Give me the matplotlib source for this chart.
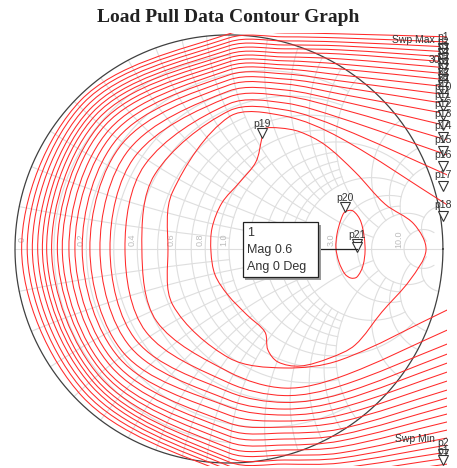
import numpy as np
import matplotlib.pyplot as plt
import matplotlib.transforms as mtransforms
from matplotlib.path import Path
from matplotlib.patches import PathPatch, Rectangle

# open load pull contours p1..p18, key points (reflection coeff. plane)
# each contour: right border (top) -> over the top -> round the left -> bottom -> right border
edge_x = 1.02
top_end_y = [0.991, 0.967, 0.944, 0.921, 0.897, 0.874, 0.846, 0.818, 0.790, 0.757,
             0.720, 0.678, 0.631, 0.575, 0.509, 0.439, 0.346, 0.206]
top_x052_y = [1.005, 0.986, 0.967, 0.949, 0.930, 0.911, 0.888, 0.864, 0.841, 0.813,
              0.785, 0.757, 0.724, 0.692, 0.655, 0.612, 0.566, 0.519]
top_x026_y = [1.009, 0.991, 0.972, 0.953, 0.935, 0.916, 0.897, 0.879, 0.860, 0.841,
              0.818, 0.794, 0.771, 0.743, 0.715, 0.682, 0.650, 0.621]
top_x0_y = [1.005, 0.986, 0.967, 0.949, 0.930, 0.911, 0.893, 0.874, 0.855, 0.836,
            0.813, 0.790, 0.766, 0.738, 0.710, 0.678, 0.645, 0.617]
ul_radius = [0.981, 0.963, 0.942, 0.921, 0.902, 0.883, 0.862, 0.839, 0.818, 0.790,
             0.764, 0.734, 0.701, 0.659, 0.617, 0.556, 0.491, 0.374]
left_x = [-0.969, -0.943, -0.919, -0.894, -0.872, -0.852, -0.829, -0.802, -0.779, -0.748,
          -0.720, -0.686, -0.650, -0.603, -0.556, -0.486, -0.407, -0.285]
ll_radius = [0.972, 0.950, 0.929, 0.907, 0.888, 0.870, 0.849, 0.826, 0.806, 0.778,
             0.753, 0.723, 0.692, 0.650, 0.609, 0.548, 0.478, 0.371]
bot_x0_y = [-1.051, -1.033, -1.014, -0.995, -0.977, -0.953, -0.930, -0.902, -0.874, -0.846,
            -0.813, -0.776, -0.738, -0.706, -0.668, -0.626, -0.575, -0.509]
bot_x026_y = [-1.065, -1.047, -1.028, -1.005, -0.986, -0.963, -0.939, -0.916, -0.888, -0.860,
              -0.832, -0.804, -0.776, -0.748, -0.717, -0.685, -0.650, -0.556]
bot_x052_y = [-1.070, -1.047, -1.023, -1.000, -0.977, -0.953, -0.925, -0.897, -0.869, -0.841,
              -0.808, -0.776, -0.743, -0.710, -0.678, -0.640, -0.598, -0.519]
bot_end_y = [-1.005, -0.977, -0.949, -0.916, -0.883, -0.846, -0.808, -0.771, -0.734, -0.696,
             -0.659, -0.617, -0.575, -0.533, -0.491, -0.444, -0.379, -0.285]

# closed contours p19, p20 (start at the marker)
p19_x = [0.154, 0.126, 0.051, -0.033, -0.079, -0.084, -0.065, -0.005, 0.084, 0.168, 0.182, 0.229,
         0.332, 0.472, 0.589, 0.715, 0.846, 0.921, 0.864, 0.729, 0.589, 0.449, 0.332, 0.238, 0.164]
p19_y = [0.519, 0.407, 0.313, 0.215, 0.098, -0.014, -0.121, -0.215, -0.308, -0.388, -0.472, -0.528,
         -0.547, -0.509, -0.449, -0.294, -0.145, -0.005, 0.117, 0.210, 0.360, 0.486, 0.547, 0.565, 0.561]
p20_x = [0.542, 0.579, 0.617, 0.636, 0.626, 0.598, 0.570, 0.542, 0.514, 0.500, 0.505, 0.523]
p20_y = [0.173, 0.178, 0.126, 0.009, -0.079, -0.131, -0.136, -0.117, -0.061, 0.005, 0.070, 0.136]

# optimum point p21 / marker 1
marker_mag = 0.6
marker_ang = 0.0

# smith chart grid: (value, limit of the other coordinate)
r_circles = [(0.1, 1), (0.3, 1), (0.5, 1), (0.7, 1), (0.9, 1),
             (0.2, 2), (0.4, 2), (0.6, 2), (0.8, 2), (1.0, 5),
             (1.2, 2), (1.4, 2), (1.6, 2), (1.8, 2), (2.0, 5),
             (3.0, 5), (4.0, 5), (5.0, 10), (10.0, 20)]
x_arcs = r_circles
r_labels = ['0', '0.2', '0.4', '0.6', '0.8', '1.0', '2.0', '3.0', '10.0']


def smooth_path(xs, ys, closed=False):
    p = np.column_stack([xs, ys]).astype(float)
    if closed:
        p = np.vstack([p, p[0]])
    n = len(p)
    d = np.linalg.norm(np.diff(p, axis=0), axis=1)
    m = np.zeros_like(p)
    for i in range(n):
        if closed:
            ip = i - 1 if i > 0 else n - 2
            inx = i + 1 if i < n - 1 else 1
            dp = d[i - 1] if i > 0 else d[-1]
            dn = d[i] if i < n - 1 else d[0]
            m[i] = (p[inx] - p[ip]) / (dp + dn)
        elif i == 0:
            m[i] = (p[1] - p[0]) / d[0]
        elif i == n - 1:
            m[i] = (p[-1] - p[-2]) / d[-1]
        else:
            m[i] = (p[i + 1] - p[i - 1]) / (d[i - 1] + d[i])
    verts = [p[0]]
    codes = [Path.MOVETO]
    for i in range(n - 1):
        verts += [p[i] + m[i] * d[i] / 3, p[i + 1] - m[i + 1] * d[i] / 3, p[i + 1]]
        codes += [Path.CURVE4] * 3
    return Path(verts, codes)


def gamma(z):
    return (z - 1) / (z + 1)


fig = plt.figure(figsize=(4.57, 4.68), dpi=100)
ax = fig.add_axes([15 / 457, 2 / 468, 432 / 457, 433 / 468])
ax.set_xlim(-1.0, 1.019)
ax.set_ylim(-1.014, 1.009)
ax.axis('off')

grid_c = '#dedede'
for r, xm in r_circles:
    xx = np.tan(np.linspace(-np.arctan(xm), np.arctan(xm), 300))
    g = gamma(r + 1j * xx)
    ax.plot(g.real, g.imag, color=grid_c, lw=0.8, zorder=1)
for xv, rm in x_arcs:
    rr = np.tan(np.linspace(0, np.arctan(rm), 300))
    for s in (1, -1):
        g = gamma(rr + 1j * s * xv)
        ax.plot(g.real, g.imag, color=grid_c, lw=0.8, zorder=1)
ax.plot([-1, 1], [0, 0], color=grid_c, lw=0.8, zorder=1)
t = np.linspace(0, 2 * np.pi, 600)
ax.plot(np.cos(t), np.sin(t), color='#404040', lw=0.9, zorder=3, clip_on=False)

for lab in r_labels:
    gx = gamma(float(lab))
    ax.text(max(gx - 0.022, -0.965), 0.045, lab, rotation=90, fontsize=6.5, color='#bdbdbd',
            ha='center', va='center', family='Liberation Sans', zorder=2)

# contours
red = '#ff2a2a'
c45 = np.cos(np.pi / 4)
for i in range(len(left_x)):
    xs = [edge_x, 0.52, 0.26, 0.0, -ul_radius[i] * c45, left_x[i], -ll_radius[i] * c45,
          0.0, 0.26, 0.52, edge_x]
    ys = [top_end_y[i], top_x052_y[i], top_x026_y[i], top_x0_y[i], ul_radius[i] * c45, 0.0,
          -ll_radius[i] * c45, bot_x0_y[i], bot_x026_y[i], bot_x052_y[i], bot_end_y[i]]
    ax.add_patch(PathPatch(smooth_path(xs, ys), fc='none', ec=red, lw=0.75, zorder=4))
ax.add_patch(PathPatch(smooth_path(p19_x, p19_y, closed=True), fc='none', ec=red, lw=0.75, zorder=4))
ax.add_patch(PathPatch(smooth_path(p20_x, p20_y, closed=True), fc='none', ec=red, lw=0.75, zorder=4))


def marker(x, y, label, tri_dy=4.5, lab_dy=14):
    tri_tr = mtransforms.offset_copy(ax.transData, fig=fig, x=0, y=tri_dy, units='dots')
    lab_tr = mtransforms.offset_copy(ax.transData, fig=fig, x=0, y=lab_dy, units='dots')
    ax.plot([x], [y], marker='v', ms=7, mfc='white', mec='#333333', mew=0.8,
            transform=tri_tr, clip_on=False, zorder=6)
    ax.text(x, y, label, transform=lab_tr, fontsize=7.5, color='#333333', ha='center',
            va='center', family='Liberation Sans', zorder=7, clip_on=False)


# trace start markers at the right border: label on the line end, triangle below
for i in range(len(left_x)):
    marker(1.0, top_end_y[i], 'p%d' % (i + 1), tri_dy=-11, lab_dy=0)
marker(p19_x[0], p19_y[0], 'p19')
marker(p20_x[0], p20_y[0], 'p20')
mx = marker_mag * np.cos(np.radians(marker_ang))
my = marker_mag * np.sin(np.radians(marker_ang))
marker(mx, my, 'p21')
marker(mx, my - 0.006, '', tri_dy=3)

ax.text(0.96, 0.976, 'Swp Max', fontsize=7.5, color='#333333', ha='right', va='center',
        family='Liberation Sans', zorder=7)
ax.text(0.985, 0.885, '30', fontsize=7.5, color='#333333', ha='right', va='center',
        family='Liberation Sans', zorder=7)
ax.text(0.96, -0.888, 'Swp Min', fontsize=7.5, color='#333333', ha='right', va='center',
        family='Liberation Sans', zorder=7)
marker(1.0, -0.905, 'p2', tri_dy=-11, lab_dy=0)
marker(1.0, -0.945, 'p1', tri_dy=-9, lab_dy=0)

# marker callout box
bx0, bx1, by0, by1 = 0.065, 0.416, -0.131, 0.126
ax.plot([bx1, mx], [0.0, my], color='#222222', lw=0.9, zorder=8)
ax.add_patch(Rectangle((bx0 + 0.012, by0 - 0.012), bx1 - bx0, by1 - by0, fc='#9a9a9a',
                       ec='none', zorder=8))
ax.add_patch(Rectangle((bx0, by0), bx1 - bx0, by1 - by0, fc='white', ec='#222222', lw=0.9,
                       zorder=9))
for k, s in enumerate(['1', 'Mag %.1f' % marker_mag, 'Ang %d Deg' % marker_ang]):
    ax.text(bx0 + 0.02, 0.076 - k * 0.08, s, fontsize=9, color='#333333', ha='left',
            va='center', family='Liberation Sans', zorder=10)

fig.text(0.5, 1 - 18 / 468, 'Load Pull Data Contour Graph', ha='center', va='center',
         fontsize=14, fontweight='bold', family='Liberation Serif', color='#222222')

fig.savefig('out.png', dpi=100)
